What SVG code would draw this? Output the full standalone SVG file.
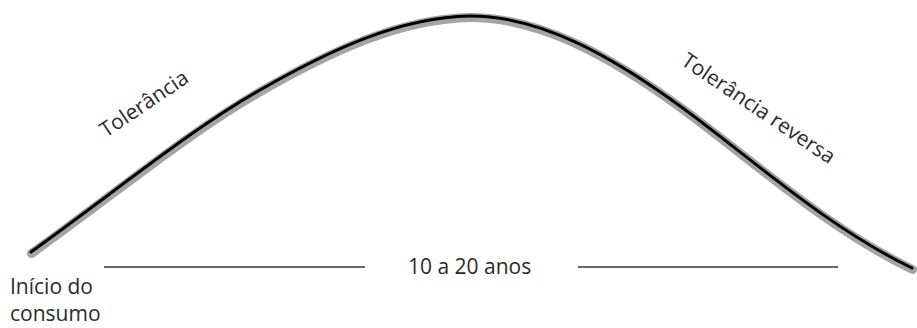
<svg xmlns="http://www.w3.org/2000/svg" width="917" height="328" viewBox="0 0 917 328">
<style>
.lbl{font-family:"Open Sans","Liberation Sans",sans-serif;font-size:21px;fill:#2a2a2a}
.shadow{fill:none;stroke:#a4a4a4;stroke-width:9;stroke-linecap:round;stroke-linejoin:round}
.curve{fill:none;stroke:#000;stroke-width:3;stroke-linecap:round;stroke-linejoin:round}
.rule{stroke:#333;stroke-width:1.4}
</style>
<rect width="917" height="328" fill="#fff"/>
<g id="connectors">
<path class="shadow" transform="translate(0.5,1.5)" d="M31,252 C120,188 190,130 260,90 C330,50 400,17 470,16 C540,16 610,55 680,106 C750,157 825,226 912,268"/>
<path class="curve" d="M31,252 C120,188 190,130 260,90 C330,50 400,17 470,16 C540,16 610,55 680,106 C750,157 825,226 912,268"/>
<line class="rule" x1="104" y1="267" x2="365" y2="267"/>
<line class="rule" x1="578" y1="267" x2="838" y2="267"/>
</g>
<g id="label-tolerancia"><text class="lbl" transform="translate(106,138) rotate(-34)">Tolerância</text></g>
<g id="label-reversa"><text class="lbl" transform="translate(680,64) rotate(34)">Tolerância reversa</text></g>
<g id="label-anos"><text class="lbl" x="408" y="274">10 a 20 anos</text></g>
<g id="label-inicio"><text class="lbl" x="10" y="294">Início do</text><text class="lbl" x="10" y="321">consumo</text></g>
</svg>
